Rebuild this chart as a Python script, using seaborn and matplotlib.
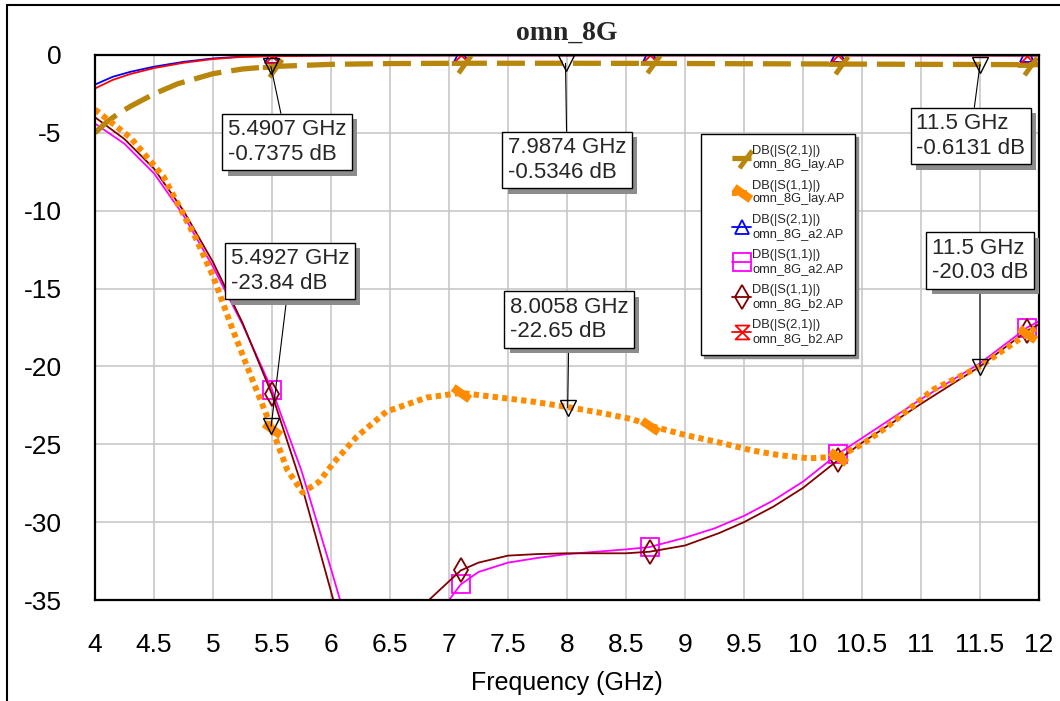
import numpy as np
import matplotlib
matplotlib.use("Agg")
import matplotlib.pyplot as plt
import matplotlib.patheffects as pe
from matplotlib.path import Path
from matplotlib.lines import Line2D
from matplotlib.legend_handler import HandlerLine2D
import seaborn as sns

# values (frequency in GHz, magnitude in dB)
lay_s21_f = [4.0, 4.1, 4.2, 4.3, 4.5, 4.7, 5.0, 5.25, 5.5, 6.0, 6.5, 7.1, 8.0, 8.7, 9.5, 10.3, 11.0, 11.5, 11.9, 12.0]
lay_s21_db = [-5.0, -4.3, -3.75, -3.3, -2.5, -1.85, -1.2, -0.9, -0.74, -0.6, -0.55, -0.53, -0.53, -0.54, -0.56, -0.58, -0.6, -0.61, -0.62, -0.62]

lay_s11_f = [4.0, 4.3, 4.58, 4.85, 5.0, 5.17, 5.31, 5.5, 5.63, 5.76, 5.9, 6.02, 6.22, 6.47, 6.81, 7.1, 7.43, 7.7,
             8.0, 8.3, 8.56, 8.7, 9.0, 9.3, 9.57, 9.8, 10.05, 10.3, 10.5, 10.71, 11.1, 11.5, 11.9, 12.0]
lay_s11_db = [-3.5, -5.3, -7.8, -11.7, -14.2, -17.7, -20.4, -24.0, -26.65, -28.1, -27.4, -26.2, -24.5, -22.9, -22.0, -21.7, -22.0, -22.25,
              -22.6, -23.0, -23.4, -23.8, -24.4, -24.9, -25.4, -25.7, -25.9, -25.8, -25.0, -23.9, -21.5, -20.0, -17.9, -17.4]

s21_f = [4.0, 4.15, 4.3, 4.5, 4.75, 5.0, 5.25, 5.5, 6.0, 7.1, 8.7, 10.3, 11.9, 12.0]
a2_s21_db = [-1.9, -1.4, -1.08, -0.75, -0.44, -0.22, -0.1, -0.06, -0.03, -0.02, -0.02, -0.02, -0.03, -0.03]
b2_s21_db = [-2.15, -1.6, -1.22, -0.84, -0.5, -0.26, -0.12, -0.08, -0.04, -0.03, -0.03, -0.03, -0.04, -0.04]

a2_s11_f = [4.0, 4.25, 4.5, 4.75, 5.0, 5.25, 5.5, 5.75, 6.0, 6.1, 6.3, 6.6, 6.9, 7.0, 7.1, 7.25, 7.5, 7.75, 8.0,
            8.25, 8.5, 8.7, 9.0, 9.25, 9.5, 9.75, 10.0, 10.3, 10.5, 11.0, 11.5, 11.9, 12.0]
a2_s11_db = [-4.4, -5.7, -7.6, -10.3, -13.6, -17.3, -21.5, -26.7, -33.0, -35.6, -40.0, -42.0, -36.5, -35.0, -34.0, -33.2, -32.6, -32.3, -32.05,
             -31.9, -31.75, -31.6, -31.0, -30.4, -29.6, -28.6, -27.4, -25.6, -24.6, -22.1, -19.8, -17.5, -17.1]

b2_s11_f = [4.0, 4.25, 4.5, 4.75, 5.0, 5.25, 5.5, 5.75, 6.02, 6.2, 6.5, 6.83, 7.0, 7.1, 7.25, 7.5, 7.75, 8.0,
            8.25, 8.5, 8.7, 9.0, 9.29, 9.5, 9.75, 10.0, 10.3, 10.5, 11.0, 11.5, 11.9, 12.0]
b2_s11_db = [-4.0, -5.4, -7.3, -10.0, -13.3, -17.2, -21.8, -27.6, -35.0, -40.0, -41.0, -35.0, -33.8, -33.1, -32.6, -32.15, -32.05, -32.0,
             -32.0, -32.0, -31.9, -31.5, -30.7, -30.0, -29.0, -27.8, -26.0, -24.9, -22.4, -20.0, -17.7, -17.3]

# trace symbols sit every 1.6 GHz
mark_f = [5.5, 7.1, 8.7, 10.3, 11.9]

# marker readouts
ann_f = [5.4907, 7.9874, 11.5, 5.4927, 8.0058, 11.5]
ann_db = [-0.7375, -0.5346, -0.6131, -23.84, -22.65, -20.03]
ann_box_f = [5.627, 8.0, 11.42, 5.653, 8.017, 11.5]
ann_box_db = [-5.59, -6.74, -5.2, -13.87, -16.99, -13.2]

legend_labels = ["DB(|S(2,1)|)\nomn_8G_lay.AP", "DB(|S(1,1)|)\nomn_8G_lay.AP",
                 "DB(|S(2,1)|)\nomn_8G_a2.AP", "DB(|S(1,1)|)\nomn_8G_a2.AP",
                 "DB(|S(1,1)|)\nomn_8G_b2.AP", "DB(|S(2,1)|)\nomn_8G_b2.AP"]

sns.set_theme(style="whitegrid")
plt.rcParams["font.family"] = ["Liberation Sans", "DejaVu Sans"]

# odd AWR style symbols
slash_mark = Path([(-1, 0), (0.4, 0), (-0.3, -1), (1, 0.8)],
                  [Path.MOVETO, Path.LINETO, Path.MOVETO, Path.LINETO])
blob_mark = Path([(-1, 0.7), (1, -0.7)], [Path.MOVETO, Path.LINETO])
hourglass = Path([(-1, 1), (1, 1), (-1, -1), (1, -1), (-1, 1)],
                 [Path.MOVETO, Path.LINETO, Path.LINETO, Path.LINETO, Path.CLOSEPOLY])


def idx(f):
    return [int(np.argmin(np.abs(np.array(f) - m))) for m in mark_f]


fig = plt.figure(figsize=(10.6, 7.01), dpi=100)
ax = fig.add_axes([95 / 1060, 1 - 600 / 701, (1039 - 95) / 1060, (600 - 55) / 701])

sns.lineplot(x=s21_f, y=a2_s21_db, ax=ax, color="#0000ff", lw=1.3, estimator=None, sort=False,
             marker="^", ms=10, mfc="none", mec="#0000ff", mew=1.3, markevery=idx(s21_f), zorder=3)
sns.lineplot(x=s21_f, y=b2_s21_db, ax=ax, color="#ff0000", lw=1.3, estimator=None, sort=False,
             marker=hourglass, ms=10, mfc="none", mec="#ff0000", mew=1.3, markevery=idx(s21_f), zorder=3)
sns.lineplot(x=a2_s11_f, y=a2_s11_db, ax=ax, color="#ff00ff", lw=1.3, estimator=None, sort=False,
             marker="s", ms=13, mfc="none", mec="#ff00ff", mew=1.3, markevery=idx(a2_s11_f), zorder=3)
sns.lineplot(x=b2_s11_f, y=b2_s11_db, ax=ax, color="#800000", lw=1.3, estimator=None, sort=False,
             marker="d", ms=12, mfc="none", mec="#800000", mew=1.3, markevery=idx(b2_s11_f), zorder=3)
sns.lineplot(x=lay_s21_f, y=lay_s21_db, ax=ax, color="#b8860b", lw=3.8, linestyle=(0, (5.3, 1.9)),
             estimator=None, sort=False, marker=slash_mark, ms=14, mec="#b8860b", mew=3.5,
             markevery=idx(lay_s21_f), zorder=4)
sns.lineplot(x=lay_s11_f, y=lay_s11_db, ax=ax, color="#ff8c00", lw=4.3, linestyle=(0, (0.9, 0.7)),
             estimator=None, sort=False, marker=blob_mark, ms=12, mec="#ff8c00", mew=6,
             markevery=idx(lay_s11_f), zorder=4)

ax.plot(ann_f, ann_db, "v", ms=11, mfc="none", mec="black", mew=1, zorder=6)

for f, d, tf, td in zip(ann_f, ann_db, ann_box_f, ann_box_db):
    t = ax.annotate(f"{f:g} GHz\n{d:g} dB", xy=(f, d), xytext=(tf, td), textcoords="data",
                    ha="center", va="center", multialignment="left", fontsize=16, zorder=7,
                    bbox=dict(boxstyle="square,pad=0.25", fc="white", ec="black", lw=1),
                    arrowprops=dict(arrowstyle="-", color="black", lw=0.8, shrinkA=0, shrinkB=0))
    t.get_bbox_patch().set_path_effects([
        pe.SimplePatchShadow(offset=(4, -4), shadow_rgbFace="#8c8c8c", alpha=1), pe.Normal()])

lines = ax.get_lines()
order = [4, 5, 0, 2, 3, 1]
leg = ax.legend([lines[i] for i in order], legend_labels, loc="upper left",
                bbox_to_anchor=(695 / 1060, 1 - 128 / 701), bbox_transform=fig.transFigure,
                fontsize=9.3, handlelength=3.0, handletextpad=0.15, labelspacing=0.7,
                borderpad=0.8, fancybox=False, framealpha=1, edgecolor="black",
                handler_map={Line2D: HandlerLine2D(xpad=1.6)},
                shadow={"color": "#8c8c8c", "alpha": 1})
leg.get_frame().set_linewidth(1)
leg.set_zorder(8)

ax.set_xlim(4, 12)
ax.set_ylim(-35, 0)
ax.set_xticks(np.arange(4, 12.01, 0.5))
ax.set_yticks(np.arange(-35, 0.1, 5))
ax.set_xticklabels([f"{v:g}" for v in np.arange(4, 12.01, 0.5)])
ax.set_yticklabels([f"{v:g}" for v in np.arange(-35, 0.1, 5)])
ax.tick_params(axis="x", length=0, pad=24, labelsize=19, labelcolor="black")
ax.tick_params(axis="y", length=0, pad=24, labelsize=19, labelcolor="black")
ax.grid(True, color="#c8c8c8", lw=1.2)
ax.set_facecolor("white")
for s in ax.spines.values():
    s.set_color("black")
    s.set_linewidth(1.6)
    s.set_zorder(5)

ax.set_xlabel("Frequency (GHz)", fontsize=18, labelpad=10, color="black")
ax.set_ylabel("")
ax.set_title("omn_8G", fontsize=20, fontweight="bold", family=["Liberation Serif", "DejaVu Serif"], pad=11)

# frame lines of the graph window
fig.add_artist(Line2D([7 / 1060, 1], [1 - 5 / 701, 1 - 5 / 701], color="black", lw=1.5, transform=fig.transFigure))
fig.add_artist(Line2D([7 / 1060, 7 / 1060], [0, 1 - 5 / 701], color="black", lw=1.5, transform=fig.transFigure))

fig.savefig("out.png", dpi=100, facecolor="white")
